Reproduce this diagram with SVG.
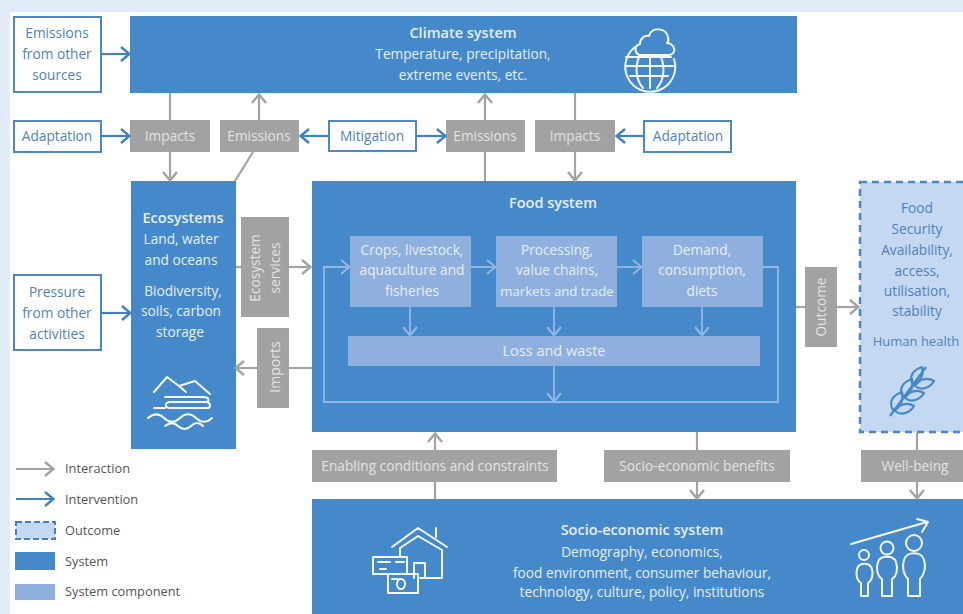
<svg xmlns="http://www.w3.org/2000/svg" width="963" height="614" viewBox="0 0 963 614">
<style>
text{font-family:"Open Sans","Noto Sans","Liberation Sans",sans-serif;font-size:13.7px;text-anchor:middle}
.w{fill:#e6eef8}.t{fill:#4f82bd}.g{fill:#e2e2e2}.d{fill:#555;text-anchor:start;font-size:12.8px}
.b{font-weight:600;font-size:14.5px}
.sys{fill:#4589cb}.cmp{fill:#8fb0df}.gr{fill:#a2a2a2}.box{fill:#fff;stroke:#4f86c4;stroke-width:2}
.lg{fill:none;stroke:#a3a3a3;stroke-width:2.2}.lb{fill:none;stroke:#4080bf;stroke-width:2.2}.ll{fill:none;stroke:#93b7e4;stroke-width:1.8}
.ic{fill:none;stroke:#f4f8fd;stroke-width:2;stroke-linejoin:round;stroke-linecap:round}
</style>
<defs>
<marker id="ag" viewBox="0 0 12 16" refX="11" refY="8" markerWidth="12" markerHeight="16" markerUnits="userSpaceOnUse" orient="auto"><path d="M2 1L10.5 8L2 15" fill="none" stroke="#a3a3a3" stroke-width="2.4"/></marker>
<marker id="ab" viewBox="0 0 12 16" refX="11" refY="8" markerWidth="12" markerHeight="16" markerUnits="userSpaceOnUse" orient="auto"><path d="M2 1L10.5 8L2 15" fill="none" stroke="#4080bf" stroke-width="2.4"/></marker>
<marker id="al" viewBox="0 0 12 16" refX="11" refY="8" markerWidth="12" markerHeight="16" markerUnits="userSpaceOnUse" orient="auto"><path d="M2 1L10.5 8L2 15" fill="none" stroke="#93b7e4" stroke-width="2"/></marker>
</defs>
<rect width="963" height="614" fill="#e2ebf8"/>
<rect x="10" y="12" width="953" height="602" fill="#fff"/>
<g id="climate"><rect class="sys" x="130" y="16" width="667" height="77"/>
<text class="w b" x="463" y="38">Climate system</text><text class="w" x="463" y="59">Temperature, precipitation,</text><text class="w" x="463" y="80">extreme events, etc.</text>
<g class="ic"><path d="M641 55c-6 0-8-9-1-11 0-6 5-9 9-8 2-9 17-9 19 1 1 3 0 5-1 6 8 0 11 12 1 12z"/><path d="M638 45a25 25 0 1 0 36 14M626 57h45M626 66h47M630 76h38M640 55c-5 10-5 24 3 33M650 55v33M660 55c5 10 5 24-3 33"/></g></g>
<g id="emissions-other"><rect class="box" x="14" y="17" width="87" height="75"/><text class="t" x="57" y="38">Emissions</text><text class="t" x="57" y="59">from other</text><text class="t" x="57" y="80">sources</text></g>
<g id="adaptation-1"><rect class="box" x="14" y="121" width="87" height="31"/><text class="t" x="57" y="141">Adaptation</text></g>
<g id="impacts-1"><rect class="gr" x="130" y="120" width="80" height="32"/><text class="g" x="170" y="141">Impacts</text></g>
<g id="emissions-1"><rect class="gr" x="220" y="120" width="79" height="32"/><text class="g" x="259" y="141">Emissions</text></g>
<g id="mitigation"><rect class="box" x="329" y="121" width="87" height="30"/><text class="t" x="372" y="141">Mitigation</text></g>
<g id="emissions-2"><rect class="gr" x="446" y="120" width="79" height="32"/><text class="g" x="485" y="141">Emissions</text></g>
<g id="impacts-2"><rect class="gr" x="535" y="120" width="80" height="32"/><text class="g" x="575" y="141">Impacts</text></g>
<g id="adaptation-2"><rect class="box" x="644" y="121" width="87" height="31"/><text class="t" x="688" y="141">Adaptation</text></g>
<g id="pressure"><rect class="box" x="14" y="275" width="87" height="75"/><text class="t" x="57" y="297">Pressure</text><text class="t" x="57" y="318">from other</text><text class="t" x="57" y="339">activities</text></g>
<g id="ecosystems"><rect class="sys" x="131" y="181" width="105" height="268"/>
<text class="w b" x="183" y="223">Ecosystems</text><text class="w" x="181" y="244">Land, water</text><text class="w" x="181" y="265">and oceans</text><text class="w" x="183" y="296">Biodiversity,</text><text class="w" x="181" y="316">soils, carbon</text><text class="w" x="180" y="337">storage</text>
<g class="ic"><path d="M154 392L167 377L179 386L186 392M179 386L195 381L210 394M165 397H203C210 397 210 402 205 402H170C164 402 165 408 170 408H207C211 408 211 403 207 402M154 408H165M148 418c6-5 11-5 16 0s11 5 16 0 11-5 16 0 11 5 16 0M165 426c5-4 9-4 13 0s9 4 13 0 8-4 12 0"/></g></g>
<g id="food"><rect class="sys" x="312" y="181" width="484" height="251"/><text class="w b" x="553" y="208">Food system</text></g>
<g id="crops"><rect class="cmp" x="350" y="236" width="121" height="71"/><text class="w" x="412" y="255">Crops, livestock,</text><text class="w" x="412" y="275">aquaculture and</text><text class="w" x="412" y="296">fisheries</text></g>
<g id="processing"><rect class="cmp" x="496" y="236" width="121" height="71"/><text class="w" x="557" y="255">Processing,</text><text class="w" x="557" y="275">value chains,</text><text class="w" x="557" y="296" style="font-size:13.2px">markets and trade</text></g>
<g id="demand"><rect class="cmp" x="642" y="236" width="121" height="71"/><text class="w" x="702" y="255">Demand,</text><text class="w" x="702" y="275">consumption,</text><text class="w" x="702" y="296">diets</text></g>
<g id="loss"><rect class="cmp" x="348" y="336" width="412" height="30"/><text class="w" x="554" y="356" style="font-size:14.5px">Loss and waste</text></g>
<g id="services"><rect class="gr" x="241" y="217" width="48" height="100"/><text class="g" transform="translate(260 268) rotate(-90)">Ecosystem</text><text class="g" transform="translate(280 268) rotate(-90)">services</text></g>
<g id="imports"><rect class="gr" x="257" y="328" width="32" height="80"/><text class="g" transform="translate(280 367) rotate(-90)" style="font-size:14px">Imports</text></g>
<g id="outcome"><rect class="gr" x="805" y="267" width="32" height="80"/><text class="g" transform="translate(826 307) rotate(-90)">Outcome</text></g>
<g id="food-security"><rect x="860" y="182" width="105" height="250" fill="#c5d8f1" stroke="#4a86c6" stroke-width="2.5" stroke-dasharray="7 5"/>
<text class="t" x="917" y="213">Food</text><text class="t" x="917" y="234">Security</text><text class="t" x="917" y="255">Availability,</text><text class="t" x="917" y="276">access,</text><text class="t" x="917" y="296">utilisation,</text><text class="t" x="917" y="316">stability</text><text class="t" x="916" y="346" style="font-size:13px">Human health</text>
<g fill="none" stroke="#4589cb" stroke-width="2.2" stroke-linejoin="round"><path d="M890 416L926 367"/><path d="M893 410C888 402 893 395 902 392C904 400 901 406 893 410ZM895 411C901 416 910 413 914 406C907 402 899 404 895 411Z"/><path transform="translate(10 -13)" d="M893 410C888 402 893 395 902 392C904 400 901 406 893 410ZM895 411C901 416 910 413 914 406C907 402 899 404 895 411Z"/><path transform="translate(20 -25)" d="M893 410C888 402 893 395 902 392C904 400 901 406 893 410ZM895 411C901 416 910 413 914 406C907 402 899 404 895 411Z"/></g></g>
<g id="enabling"><rect class="gr" x="312" y="450" width="245" height="32"/><text class="g" x="435" y="471">Enabling conditions and constraints</text></g>
<g id="benefits"><rect class="gr" x="604" y="450" width="186" height="32"/><text class="g" x="697" y="471">Socio-economic benefits</text></g>
<g id="wellbeing"><rect class="gr" x="861" y="450" width="102" height="32"/><text class="g" x="915" y="471">Well-being</text></g>
<g id="socio"><rect class="sys" x="312" y="499" width="651" height="115"/>
<text class="w b" x="642" y="535">Socio-economic system</text><text class="w" x="642" y="557">Demography, economics,</text><text class="w" x="642" y="578">food environment, consumer behaviour,</text><text class="w" x="642" y="597">technology, culture, policy, institutions</text>
<g class="ic"><path d="M392 547L418 528L447 547M436 528V537M400 557V548L418 536L442 550V578H420M414 578V563H425V578M373 557H407V574H373ZM388 574H418V593H388ZM378 562H390M396 562H404M380 569H386M397 584a4 5 0 1 0 8 0a4 5 0 1 0 -8 0M392 579H398"/>
<path d="M851 544L927 522M917 519L928 522L922 532M859 555a5 5 0 1 0 10 0a5 5 0 1 0 -10 0M861 596V583C856 580 856 573 857 569C859 562 870 562 872 569C873 573 873 580 868 583V596ZM880.500 548a6.500 6.500 0 1 0 13 0a6.500 6.500 0 1 0 -13 0M882 596V579C877 576 876 568 878 562C880 555 894 555 896 562C898 568 897 576 892 579V596ZM906 543a8 8 0 1 0 16 0a8 8 0 1 0 -16 0M908 596V579C903 574 902 566 904 560C906 551 922 551 924 560C926 566 925 574 920 579V596Z"/></g></g>
<g id="connectors">
<path class="lb" marker-end="url(#ab)" d="M101 54H130"/><path class="lb" marker-end="url(#ab)" d="M101 136H130"/>
<path class="lb" marker-end="url(#ab)" d="M329 136H300"/><path class="lb" marker-end="url(#ab)" d="M416 136H446"/>
<path class="lb" marker-end="url(#ab)" d="M644 136H616"/><path class="lb" marker-end="url(#ab)" d="M101 313H131"/>
<path class="lg" d="M170 93V120"/><path class="lg" marker-end="url(#ag)" d="M170 152V181"/>
<path class="lg" marker-end="url(#ag)" d="M259 120V94"/><path class="lg" d="M253 152L235 181"/>
<path class="lg" marker-end="url(#ag)" d="M485 120V94"/><path class="lg" d="M485 152V181"/>
<path class="lg" d="M575 93V120"/><path class="lg" marker-end="url(#ag)" d="M575 152V181"/>
<path class="lg" d="M236 267H241"/><path class="lg" marker-end="url(#ag)" d="M289 267H311"/>
<path class="lg" d="M312 368H289"/><path class="lg" marker-end="url(#ag)" d="M257 368H235"/>
<path class="lg" d="M796 307H805"/><path class="lg" marker-end="url(#ag)" d="M837 307H859"/>
<path class="lg" marker-end="url(#ag)" d="M435 450V433"/><path class="lg" d="M435 482V499"/>
<path class="lg" d="M697 432V450"/><path class="lg" marker-end="url(#ag)" d="M697 482V499"/>
<path class="lg" d="M917 433V450"/><path class="lg" marker-end="url(#ag)" d="M917 482V499"/>
<path class="ll" marker-end="url(#al)" d="M471 267H496"/><path class="ll" marker-end="url(#al)" d="M617 267H642"/>
<path class="ll" marker-end="url(#al)" d="M763 267H778V402H324V267H350"/>
<path class="ll" marker-end="url(#al)" d="M410 307V336"/><path class="ll" marker-end="url(#al)" d="M554 307V336"/><path class="ll" marker-end="url(#al)" d="M702 307V336"/><path class="ll" marker-end="url(#al)" d="M554 366V402"/>
</g>
<g id="legend">
<path class="lg" marker-end="url(#ag)" d="M16 469H54"/><path class="lb" marker-end="url(#ab)" d="M16 499H54"/>
<rect x="16" y="522" width="39" height="17" fill="#c5d8f1" stroke="#4a7fbe" stroke-width="2" stroke-dasharray="6 3"/>
<rect class="sys" x="15" y="552" width="40" height="18"/><rect class="cmp" x="15" y="584" width="40" height="16"/>
<text class="d" x="65" y="473">Interaction</text><text class="d" x="65" y="504">Intervention</text><text class="d" x="65" y="535">Outcome</text><text class="d" x="65" y="566">System</text><text class="d" x="65" y="596">System component</text>
</g>
</svg>
